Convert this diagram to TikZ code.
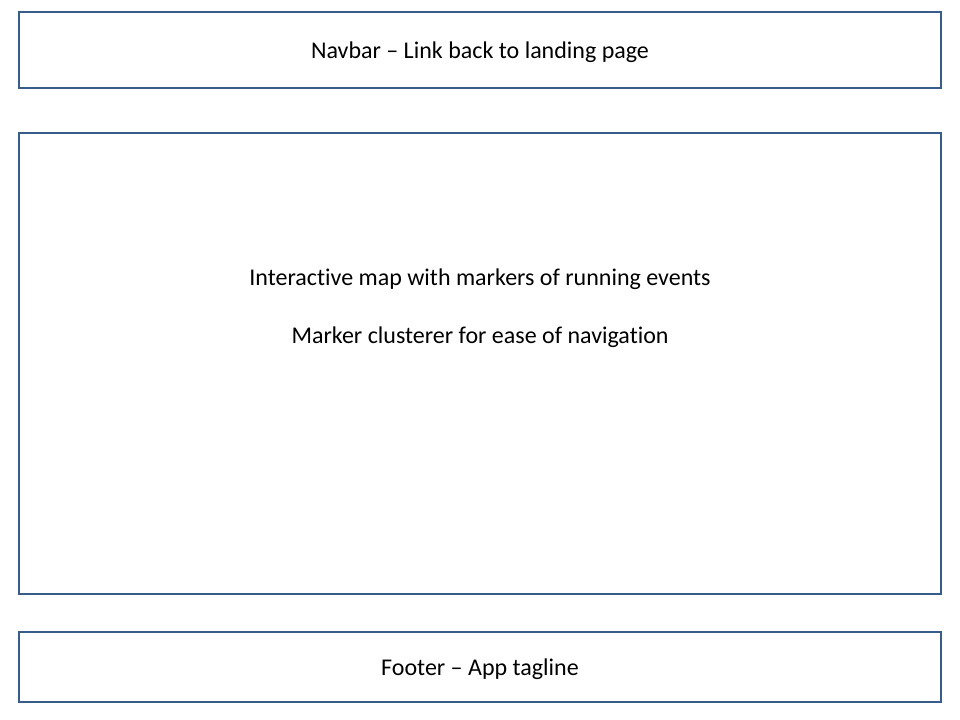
\documentclass[tikz,border=0pt]{standalone}
\usepackage{fontspec}
\setmainfont[Ligatures={TeX,NoCommon}]{Carlito}
\definecolor{boxblue}{RGB}{56,93,138}
\begin{document}
\begin{tikzpicture}[x=0.75pt,y=-0.75pt,line join=miter,font=\fontsize{18}{22}\selectfont,
	box/.style={draw=boxblue,line width=2.2pt},
	label/.style={inner sep=0pt,anchor=center}]
		\useasboundingbox (0,0) rectangle (960,720);
		\draw[box] (19,12) rectangle (941,88);
		\draw[box] (19,133) rectangle (941,594);
		\draw[box] (19,632) rectangle (941,702);
		\node[label] (nav) at (480,52) {Navbar -- Link back to landing page};
		\node[label] (map) at (480,279) {Interactive map with markers of running events};
		\node[label] (clus) at (480,337) {Marker clusterer for ease of navigation};
		\node[label] (foot) at (480,669) {Footer -- App tagline};
\end{tikzpicture}
\end{document}
